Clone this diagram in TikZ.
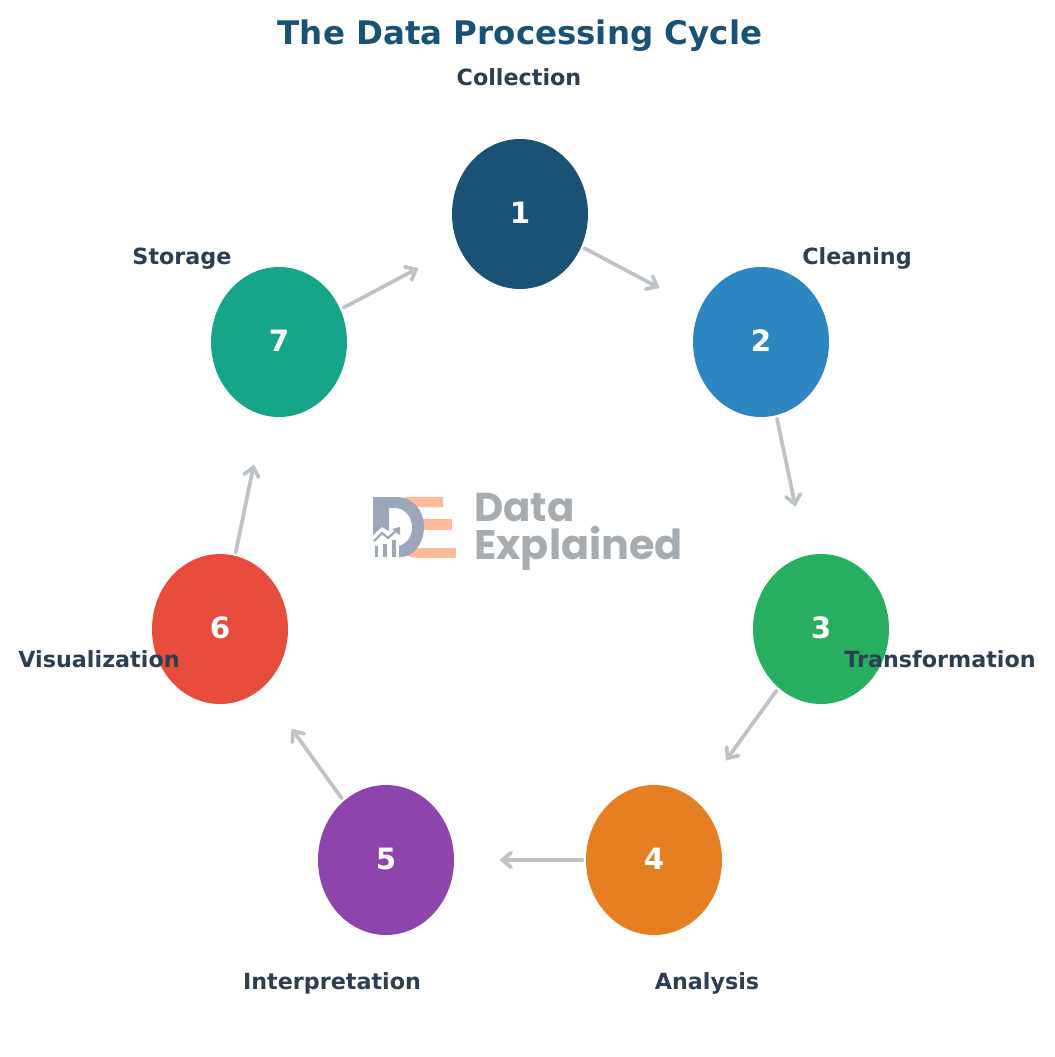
\documentclass[tikz,border=0pt]{standalone}
\usepackage{fontspec}
\setmainfont{DejaVu Sans}
\newfontfamily\logofont{Poppins}
\usetikzlibrary{shapes.geometric,arrows.meta}
\definecolor{titleblue}{HTML}{1A5276}
\definecolor{labeldark}{HTML}{2C3E50}
\definecolor{flowgray}{HTML}{BDC3C7}
\definecolor{logogray}{HTML}{A6ACAF}
\definecolor{logoslate}{HTML}{9AA8B9}
\definecolor{logopeach}{HTML}{FFBB99}
\tikzset{
  stage/.style={ellipse,minimum width=102pt,minimum height=112.5pt,inner sep=0pt,text=white,text depth=1.5pt,font=\fontsize{22}{24}\selectfont\bfseries},
  stagelabel/.style={text=labeldark,font=\fontsize{16.7}{18}\selectfont\bfseries,inner sep=0pt,anchor=base},
  flow/.style={flowgray,line width=2.8pt,line cap=round,-{Straight Barb[length=6.5pt,width=11pt,line cap=round]},shorten <=2.5pt,shorten >=34pt},
  flowlong/.style={flow,shorten >=37.5pt},
  logotext/.style={text=logogray,inner sep=0pt,anchor=base west}
}
\begin{document}
\begin{tikzpicture}[x=0.75pt,y=-0.75pt]
\useasboundingbox (0,0) rectangle (1055,1057);
\draw (520,36) node [text=titleblue,font=\fontsize{24.35}{28}\selectfont\bfseries,inner sep=0pt] (title) {The Data Processing Cycle};
\draw (520,214) node [stage,fill=titleblue] (n1) {1};
\draw (761,342) node [stage,fill={rgb,255:red,46;green,134;blue,193}] (n2) {2};
\draw (821,629) node [stage,fill={rgb,255:red,39;green,174;blue,96}] (n3) {3};
\draw (654,860) node [stage,fill={rgb,255:red,230;green,126;blue,34}] (n4) {4};
\draw (386,860) node [stage,fill={rgb,255:red,142;green,68;blue,173}] (n5) {5};
\draw (220,629) node [stage,fill={rgb,255:red,231;green,76;blue,60}] (n6) {6};
\draw (279,342) node [stage,fill={rgb,255:red,23;green,165;blue,137}] (n7) {7};
\draw (519,85) node [stagelabel] (lab1) {Collection};
\draw (857,264) node [stagelabel] (lab2) {Cleaning};
\draw (940,667) node [stagelabel] (lab3) {Transformation};
\draw (707,989) node [stagelabel] (lab4) {Analysis};
\draw (332,989) node [stagelabel] (lab5) {Interpretation};
\draw (99,667) node [stagelabel] (lab6) {Visualization};
\draw (182,264) node [stagelabel] (lab7) {Storage};
\draw [flow] (n1) -- (n2);
\draw [flowlong] (n2) -- (n3);
\draw [flowlong] (n3) -- (n4);
\draw [flow] (n4) -- (n5);
\draw [flowlong] (n5) -- (n6);
\draw [flowlong] (n6) -- (n7);
\draw [flow] (n7) -- (n1);
\fill [logopeach] (443,497) -- (443,507) -- (424,507) -- (410,507) -- (405,497) -- cycle;
\fill [logopeach] (423,519) rectangle (452,530);
\fill [logopeach] (456,548) -- (456,558) -- (420,558) .. controls (412,558) and (406,556) .. (402,552) -- (412,548) -- cycle;
\fill [logoslate] (373,497) -- (396,497) .. controls (413,497) and (424,510) .. (424,527) .. controls (424,544) and (413,557) .. (401,557) -- (399,557) -- (399,546) .. controls (408,543) and (412,536) .. (412,527) .. controls (412,516) and (404,508) .. (395,508) -- (389,508) -- (389,531) -- (382,527) -- (373,535) -- cycle;
\draw [logoslate,line width=1.6pt] (374,541) -- (382,533) -- (388,538) -- (397,530);
\fill [logoslate] (392,529) -- (400,527) -- (400,535) -- cycle;
\fill [logoslate] (374.5,546) rectangle (378,557);
\fill [logoslate] (383,544) rectangle (387,557);
\fill [logoslate] (392,540) rectangle (396,557);
\draw (474,521) node [logotext,font=\fontsize{30.2}{32}\selectfont\logofont\bfseries] (logodata) {Data};
\draw (474,559) node [logotext,font=\fontsize{31}{32}\selectfont\logofont\bfseries] (logoexpl) {Explained};
\end{tikzpicture}
\end{document}
